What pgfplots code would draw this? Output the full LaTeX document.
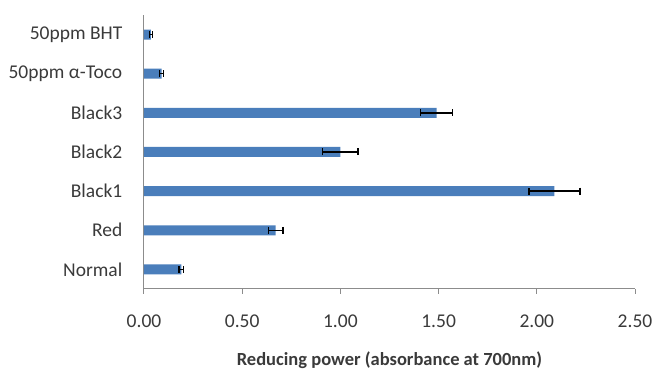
\documentclass[border=0pt]{standalone}
\usepackage{fontspec}
\setmainfont{Carlito}
\usepackage{pgfplots}
\pgfplotsset{compat=1.18}
\usetikzlibrary{calc}
\definecolor{barblue}{HTML}{4A7EBB}
\definecolor{axgray}{HTML}{8C8C8C}
\definecolor{txt}{HTML}{3A3A3A}
\begin{document}
\fontsize{19.5bp}{22bp}\selectfont
\begin{tikzpicture}
\begin{axis}[name=ax, scale only axis, width=491bp, height=274bp,
  xmin=0, xmax=2.5, ymin=-0.5, ymax=6.5,
  axis x line*=bottom, axis y line*=left,
  axis line style={axgray, line width=1bp},
  xtick={0,0.5,1,1.5,2,2.5}, ytick={0,1,2,3,4,5,6},
  yticklabels={Normal,Red,Black1,Black2,Black3,50ppm α-Toco,50ppm BHT},
  tick align=outside, major tick length=5bp,
  xtick style={axgray, line width=1bp},
  ytick style={draw=none},
  tick label style={font=\fontsize{19.5bp}{22bp}\selectfont, text=txt},
  /pgf/number format/fixed, /pgf/number format/fixed zerofill,
  /pgf/number format/precision=2, /pgf/number format/assume math mode=true,
  xticklabel style={yshift=-14bp},
  yticklabel style={xshift=-10bp},
  xlabel={\bfseries Reducing power (absorbance at 700nm)},
  xlabel style={at={(axis description cs:0.5,0)}, anchor=base, yshift=-77bp, text=txt, font=\fontsize{18.5bp}{21bp}\selectfont\bfseries},
]
\addplot[xbar, bar width=10bp, fill=barblue, draw=none,
  error bars/.cd, x dir=both, x explicit, error mark=|,
  error bar style={black, line width=1.3bp},
  error mark options={black, mark size=3.5bp, line width=1.3bp}]
coordinates {
  (0.19,0) +- (0.012,0)
  (0.67,1) +- (0.037,0)
  (2.09,2) +- (0.13,0)
  (1.00,3) +- (0.09,0)
  (1.49,4) +- (0.082,0)
  (0.09,5) +- (0.01,0)
  (0.035,6) +- (0.007,0)
};
\end{axis}
\pgfresetboundingbox
\path[use as bounding box] ($(ax.south west)+(-144bp,-82bp)$) rectangle ($(ax.north east)+(20bp,15bp)$);
\end{tikzpicture}
\end{document}
